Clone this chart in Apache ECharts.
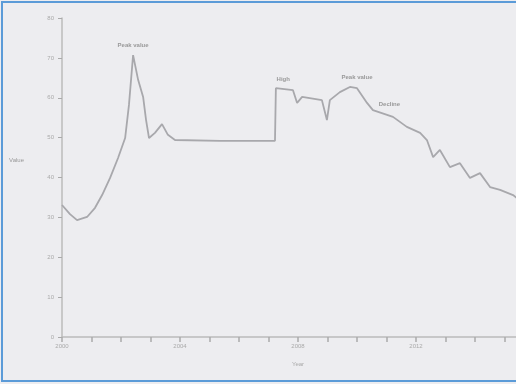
<!DOCTYPE html>
<html><head><meta charset="utf-8">
<script src="https://cdn.jsdelivr.net/npm/echarts@6/dist/echarts.min.js"></script>
<style>html,body{margin:0;padding:0;background:#ededf0;}#c{width:516px;height:384px;}</style>
</head><body><div id="c"></div>
<script>
// x positions (in tick units) and values
const xs = [0,0.27,0.51,0.85,1.12,1.36,1.63,1.90,2.14,2.27,2.41,2.58,2.75,2.85,2.95,3.15,3.39,3.59,3.83,5.36,7.22,7.25,7.83,7.97,8.14,8.81,8.98,9.08,9.42,9.76,10.0,10.34,10.54,11.22,11.69,12.14,12.37,12.58,12.81,13.15,13.49,13.83,14.17,14.51,14.85,15.29,15.6];
const values = [33.1,30.8,29.3,30.1,32.4,35.6,39.9,44.9,49.9,58.2,70.7,64.5,60.2,54.4,49.9,51.2,53.4,50.7,49.4,49.2,49.2,62.4,61.9,58.7,60.2,59.4,54.4,59.4,61.4,62.7,62.4,58.7,56.9,55.2,52.7,51.2,49.4,45.1,46.9,42.6,43.6,39.9,41.1,37.6,36.9,35.6,33.8];
const xTickLabels = {0:'2000',4:'2004',8:'2008',12:'2012'};
const yTicks = [0,10,20,30,40,50,60,70,80];
const notes = [
  {x:2.41, v:70.7, text:'Peak value'},
  {x:7.5, v:62.2, text:'High'},
  {x:10.0, v:62.7, text:'Peak value'},
  {x:11.1, v:56, text:'Decline'}
];

const chart = echarts.init(document.getElementById('c'));
chart.setOption({
  backgroundColor:'#ededf0',
  animation:false,
  grid:{left:62,top:18,width:472,bottom:47,outerBoundsMode:'none',containLabel:false},
  xAxis:{type:'value',min:0,max:16,interval:1,
    name:'Year',nameLocation:'middle',nameGap:24,
    nameTextStyle:{color:'#aaa',fontSize:6},
    axisLine:{lineStyle:{color:'#bbb',width:1.5}},
    axisTick:{length:5,lineStyle:{color:'#aaa',width:1.5}},
    splitLine:{show:false},
    axisLabel:{color:'#aaa',fontSize:6,margin:6,formatter:v=>xTickLabels[v]||''}},
  yAxis:{type:'value',min:yTicks[0],max:yTicks[yTicks.length-1],interval:10,
    name:'Value',nameLocation:'middle',nameRotate:0,nameGap:38,
    nameTextStyle:{color:'#999',fontSize:6,verticalAlign:'bottom',lineHeight:34},
    axisLine:{show:true,lineStyle:{color:'#bbb',width:1.5}},
    axisTick:{show:true,length:4,lineStyle:{color:'#aaa'}},
    splitLine:{show:false},
    axisLabel:{color:'#aaa',fontSize:6,margin:8}},
  series:[{type:'line',data:xs.map((x,i)=>[x,values[i]]),
    showSymbol:false,lineStyle:{color:'#a8a8ac',width:1.8},
    markPoint:{symbol:'rect',symbolSize:[1,1],itemStyle:{color:'rgba(0,0,0,0)'},
      label:{show:true,position:'top',distance:6,color:'#999',fontSize:6,fontWeight:'bold'},
      data:notes.map(n=>({coord:[n.x,n.v],value:n.text,label:{formatter:n.text}}))}}],
  graphic:[{type:'rect',shape:{x:2,y:2,width:520,height:379},style:{fill:'none',stroke:'#5b9bd8',lineWidth:2},z:100}]
});
</script></body></html>
